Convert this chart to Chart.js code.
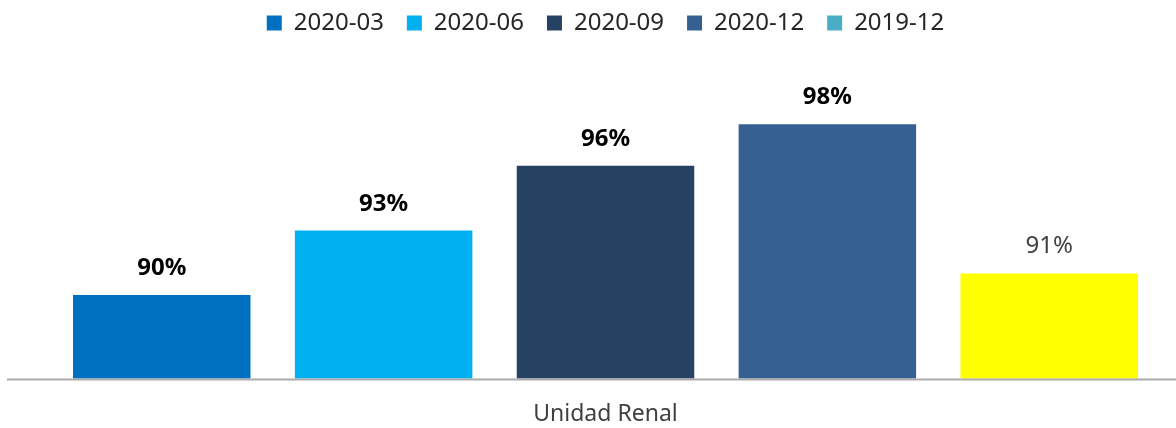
<!DOCTYPE html>
<html>
<head>
<meta charset="utf-8">
<script src="https://cdn.jsdelivr.net/npm/chart.js@4.4.1/dist/chart.umd.min.js"></script>
<style>
html,body{margin:0;padding:0;background:#fff;}
#wrap{width:1176px;height:428px;position:relative;}
</style>
</head>
<body>
<div id="wrap"><canvas id="c" width="1176" height="428"></canvas></div>
<script>
const categories = ["Unidad Renal"];
const seriesNames = ["2020-03", "2020-06", "2020-09", "2020-12", "2019-12"];
const seriesValues = [89.94, 92.98, 96.04, 98.0, 90.96];
const barColors = ["#0070C0", "#00B0F0", "#264262", "#366092", "#FFFF00"];
const legendColors = ["#0070C0", "#00B0F0", "#264262", "#366092", "#4BACC6"];
const labelBold = [true, true, true, true, false];

const datasets = seriesNames.map((n, i) => ({
  label: n,
  data: [seriesValues[i]],
  backgroundColor: barColors[i],
  borderWidth: 0,
  barPercentage: 0.8,
  categoryPercentage: 0.974
}));

const valueLabels = {
  id: 'valueLabels',
  afterDatasetsDraw(chart) {
    const ctx = chart.ctx;
    ctx.save();
    ctx.textAlign = 'center';
    ctx.textBaseline = 'alphabetic';
    chart.data.datasets.forEach((ds, i) => {
      const meta = chart.getDatasetMeta(i);
      meta.data.forEach((bar, j) => {
        const v = ds.data[j];
        ctx.font = (labelBold[i] ? 'bold ' : '') + '24px "Noto Sans"';
        ctx.fillStyle = labelBold[i] ? '#000000' : '#404040';
        ctx.fillText(Math.round(v) + '%', bar.x, bar.y - 20);
      });
    });
    ctx.restore();
  }
};

const baseLine = {
  id: 'baseLine',
  afterDatasetsDraw(chart) {
    const ctx = chart.ctx;
    const a = chart.chartArea;
    ctx.save();
    ctx.strokeStyle = '#ABABAB';
    ctx.lineWidth = 2;
    ctx.beginPath();
    ctx.moveTo(7, a.bottom + 1);
    ctx.lineTo(chart.width, a.bottom + 1);
    ctx.stroke();
    ctx.restore();
  }
};

const legendGap = {
  id: 'legendGap',
  beforeInit(chart) {
    const origFit = chart.legend.fit;
    chart.legend.fit = function () {
      origFit.bind(chart.legend)();
      this.height += 37;
    };
  }
};

new Chart(document.getElementById('c'), {
  type: 'bar',
  data: { labels: categories, datasets: datasets },
  options: {
    responsive: false,
    animation: false,
    events: [],
    layout: { padding: { left: 36, right: 1, top: -12, bottom: -22 } },
    plugins: {
      tooltip: { enabled: false },
      legend: {
        position: 'top',
        labels: {
          boxWidth: 15,
          boxHeight: 15,
          padding: 23,
          color: '#262626',
          font: { family: '"Noto Sans"', size: 24 },
          generateLabels(chart) {
            return chart.data.datasets.map((ds, i) => ({
              text: ds.label,
              fillStyle: legendColors[i],
              strokeStyle: legendColors[i],
              lineWidth: 0,
              hidden: false,
              datasetIndex: i,
              fontColor: '#262626'
            }));
          }
        }
      }
    },
    scales: {
      x: {
        grid: { display: false, drawTicks: false },
        border: { display: false },
        ticks: { color: '#404040', font: { family: '"Noto Sans"', size: 23 }, padding: 22 }
      },
      y: {
        display: false,
        min: 86,
        max: 100
      }
    }
  },
  plugins: [valueLabels, baseLine, legendGap]
});
</script>
</body>
</html>
